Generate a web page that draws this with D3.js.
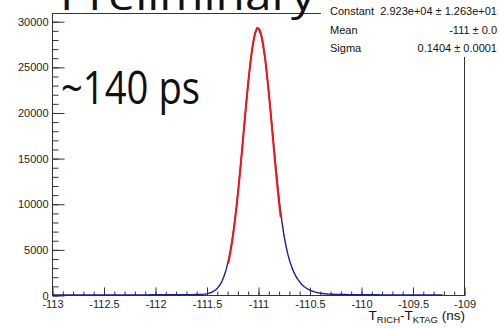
<!DOCTYPE html>
<html>
<head>
<meta charset="utf-8">
<script src="https://cdn.jsdelivr.net/npm/d3@7"></script>
<style>
  html, body { margin: 0; padding: 0; background: #fff; }
  svg { display: block; }
  text { font-family: "Liberation Sans", Arial, sans-serif; }
</style>
</head>
<body>
<svg id="chart" width="500" height="328"></svg>
<script>
// Histogram binning (ns)
const binLow = -113;
const binWidth = 0.02;
// Counts per bin, starting at binLow
const counts = [
  2, 0, 3, 1, 4, 2, 8, 3, 2, 5, 3, 6, 4, 3, 12, 5, 4, 6, 5, 7,
  6, 8, 5, 9, 7, 6, 10, 8, 9, 11, 8, 12, 10, 9, 13, 11, 12, 14, 13, 15,
  14, 16, 15, 18, 17, 19, 18, 21, 20, 22, 24, 23, 26, 25, 28, 30, 29, 33, 35, 37,
  30, 32, 34, 45, 36, 38, 40, 42, 44, 47, 50, 60, 72, 90, 115, 155, 215, 300, 420, 580,
  800, 1100, 1500, 2050, 2750, 3650, 4750, 6100, 7700, 9600, 11700, 14000, 16500, 19000, 21500, 23800, 25800, 27400, 28600, 29300,
  29050, 28450, 27300, 25800, 23800, 21600, 19200, 16800, 14400, 12100, 10000, 8200, 6700, 5450, 4450, 3650, 3000, 2450, 2000, 1650,
  1350, 1100, 900, 740, 610, 500, 410, 340, 280, 230,
  190, 160, 135, 115, 100, 88, 78, 70, 64, 58,
  54, 50, 47, 44, 41, 39, 37, 35, 33, 31,
  30, 28, 27, 26, 24, 23, 22, 21, 20, 19,
  18, 17, 16, 15, 14, 14, 13, 12, 11, 11,
  10, 9, 9, 8, 8, 7, 7, 6, 6, 5,
  5, 4, 4, 3, 3, 2, 2, 1, 1, 0
];

// Gaussian fit parameters and fit range
const fitNames = ["Constant", "Mean", "Sigma"];
const fitValues = [2.923e4, -111, 0.1404];
const fitLabels = ["2.923e+04 \u00b1 1.263e+01", "-111 \u00b1 0.0", "0.1404 \u00b1 0.0001"];
const fitRange = [-111.29, -110.78];

// Axis ranges and ticks
const xDomain = [-113, -109];
const yDomain = [0, 30900];
const xMajor = [-113, -112.5, -112, -111.5, -111, -110.5, -110, -109.5, -109];
const yMajor = [0, 5000, 10000, 15000, 20000, 25000, 30000];

const svg = d3.select("#chart");
const frameL = 52, frameR = 464, frameT = 13, frameB = 295;

const x = d3.scaleLinear().domain(xDomain).range([frameL, frameR]);
const y = d3.scaleLinear().domain(yDomain).range([frameB, frameT]);

// Frame
svg.append("rect")
  .attr("x", frameL + 0.5).attr("y", frameT + 0.5)
  .attr("width", frameR - frameL).attr("height", frameB - frameT)
  .attr("fill", "none").attr("stroke", "#333").attr("stroke-width", 1);

// X axis: minor ticks every 0.1 ns, majors every 0.5 ns
const xMinor = d3.range(0, 41).map(i => xDomain[0] + i * 0.1);
const gxMinor = svg.append("g").attr("transform", `translate(0.5,${frameB + 0.5})`)
  .call(d3.axisTop(x).tickValues(xMinor).tickSize(4).tickFormat(""));
const gx = svg.append("g").attr("transform", `translate(0.5,${frameB + 0.5})`)
  .call(d3.axisTop(x).tickValues(xMajor).tickSize(8).tickFormat(d => String(d)));
[gxMinor, gx].forEach(g => {
  g.select(".domain").remove();
  g.selectAll("line").attr("stroke", "#333");
});
gx.selectAll("text")
  .attr("y", 12).attr("dy", 0)
  .style("font-size", "11px").attr("fill", "#222");

// Y axis: minor ticks every 1000, majors every 5000
const yMinor = d3.range(0, 31).map(i => i * 1000);
const gyMinor = svg.append("g").attr("transform", `translate(${frameL + 0.5},0.5)`)
  .call(d3.axisRight(y).tickValues(yMinor).tickSize(6).tickFormat(""));
const gy = svg.append("g").attr("transform", `translate(${frameL + 0.5},0.5)`)
  .call(d3.axisRight(y).tickValues(yMajor).tickSize(12).tickFormat(d3.format("d")));
[gyMinor, gy].forEach(g => {
  g.select(".domain").remove();
  g.selectAll("line").attr("stroke", "#333");
});
gy.selectAll("text")
  .attr("x", -4).attr("text-anchor", "end")
  .style("font-size", "11px").attr("fill", "#222");

// Histogram drawn as a line through the bin centres
const histPts = counts.map((c, i) => [binLow + (i + 0.5) * binWidth, c]);
histPts.unshift([binLow, counts[0]]);
const histLine = d3.line()
  .x(d => x(d[0])).y(d => y(d[1]));
svg.append("path")
  .attr("d", histLine(histPts))
  .attr("fill", "none").attr("stroke", "#1c1ca0").attr("stroke-width", 1.4)
  .attr("stroke-linejoin", "round");

// Gaussian fit curve over the fit range
const [C, mu, sigma] = fitValues;
const gauss = t => C * Math.exp(-0.5 * ((t - mu) / sigma) ** 2);
const fitPts = d3.range(0, 201).map(i => {
  const t = fitRange[0] + (fitRange[1] - fitRange[0]) * i / 200;
  return [t, gauss(t)];
});
svg.append("path")
  .attr("d", d3.line().x(d => x(d[0])).y(d => y(d[1]))(fitPts))
  .attr("fill", "none").attr("stroke", "#ff1010").attr("stroke-width", 2);

// Fit statistics box
svg.append("rect")
  .attr("x", 321).attr("y", 0).attr("width", 179).attr("height", 57)
  .attr("fill", "#fff");
const statY = [15, 34, 52];
fitNames.forEach((n, i) => {
  svg.append("text").attr("x", 330).attr("y", statY[i])
    .style("font-size", "11px").attr("fill", "#111").text(n);
  svg.append("text").attr("x", 497).attr("y", statY[i])
    .attr("text-anchor", "end")
    .style("font-size", "11px").attr("fill", "#111").text(fitLabels[i]);
});

// X axis title
const xt = svg.append("text")
  .attr("x", 465).attr("y", 320).attr("text-anchor", "end")
  .style("font-size", "13.5px").attr("fill", "#111");
xt.append("tspan").text("T");
xt.append("tspan").attr("dy", 3).style("font-size", "9.5px").text("RICH");
xt.append("tspan").attr("dy", -3).text("-T");
xt.append("tspan").attr("dy", 3).style("font-size", "9.5px").text("KTAG");
xt.append("tspan").attr("dy", -3).text(" (ns)");

// Annotations
svg.append("text")
  .attr("x", 60).attr("y", 10)
  .attr("textLength", 255).attr("lengthAdjust", "spacingAndGlyphs")
  .style("font-family", "'Open Sans', sans-serif").style("font-size", "40px")
  .attr("fill", "#111").text("Preliminary");
svg.append("text")
  .attr("x", 61).attr("y", 104)
  .attr("textLength", 139).attr("lengthAdjust", "spacingAndGlyphs")
  .style("font-family", "'Open Sans', sans-serif").style("font-size", "45px")
  .attr("fill", "#111").text("~140 ps");
</script>
</body>
</html>
